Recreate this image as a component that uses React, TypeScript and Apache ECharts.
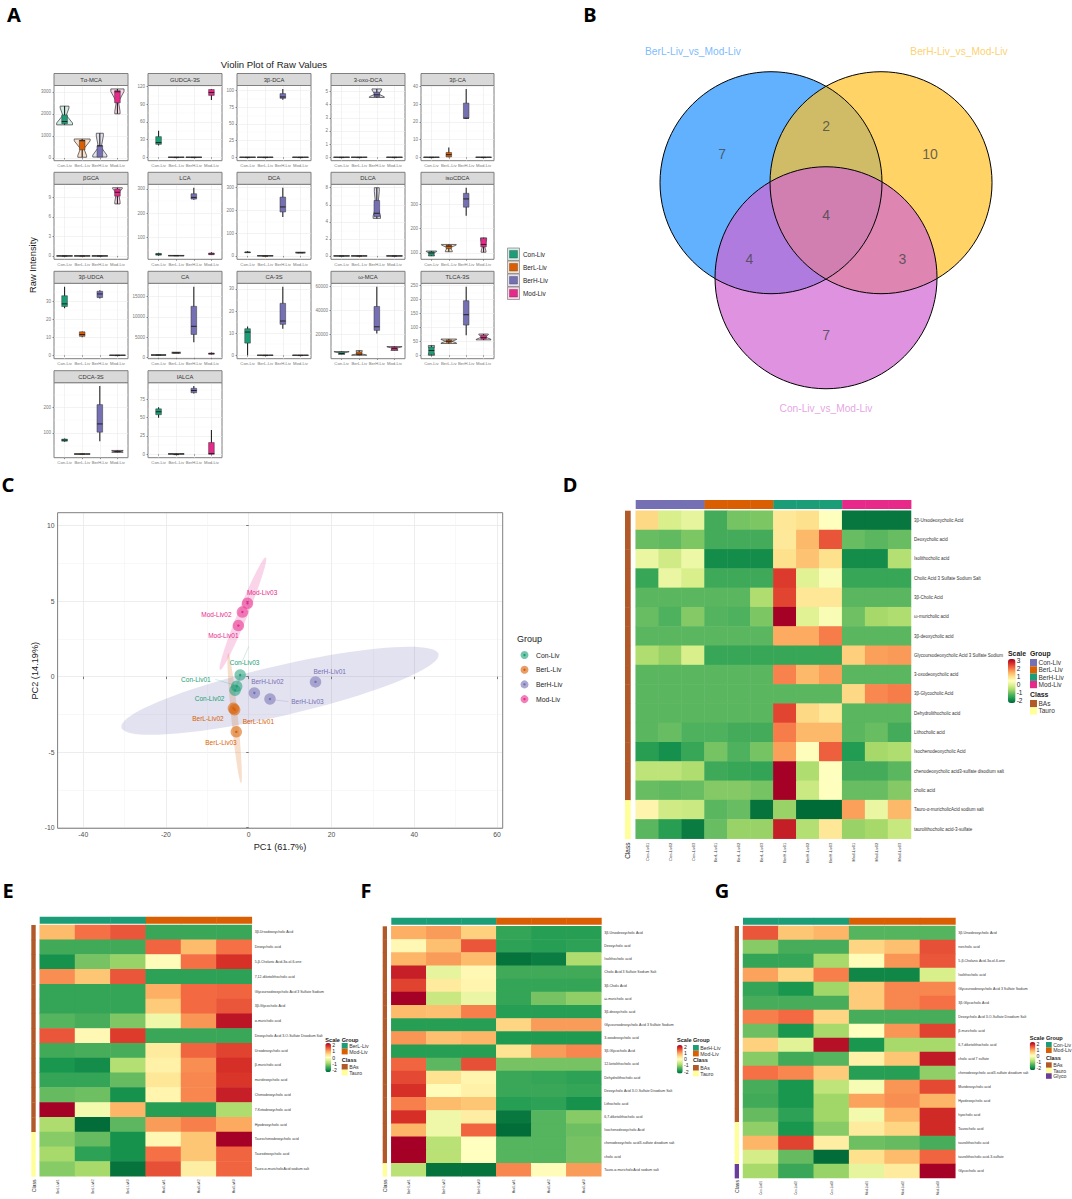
import React, { useEffect, useRef } from "react";
import * as echarts from "echarts";

const FONT = "Liberation Sans";
const groups = ["Con-Liv", "BerL-Liv", "BerH-Liv", "Mod-Liv"];
const groupColors = ["#1B9E77", "#D95F02", "#7570B3", "#E7298A"];

// ---- Panel A: [low, q1, median, q3, high, waist, topWidth, bottomWidth]
const flat = [0, 0, 0, 0, 0, 0, 0.9, 0.9];
const tauMCA = [[1500, 1550, 1650, 1950, 2350, 1930, 0.5, 0.9], [30, 370, 780, 800, 860, 420, 0.9, 0.5], [40, 40, 550, 550, 1120, 480, 0.4, 0.8], [2000, 2500, 3000, 3050, 3130, 2550, 0.75, 0.3]];
const gudca3s = [[20, 22, 25, 35, 45, 0, 0, 0], flat, flat, [97, 105, 110, 115, 116, 0, 0, 0]];
const bDCA = [flat, flat, [86, 88, 90, 95, 102, 0, 0, 0], flat];
const oxoDCA = [flat, flat, [4.55, 4.6, 4.75, 4.95, 5.2, 4.8, 0.55, 0.85], flat];
const bCA = [flat, [0, 0.2, 1.5, 2.7, 5.5, 0, 0, 0], [21.5, 22, 22, 30.5, 38.5, 0, 0, 0], flat];
const bGCA = [flat, flat, flat, [8, 9.2, 9.8, 10.3, 10.5, 9.7, 0.55, 0.3]];
const lca = [[24, 26, 30, 33, 36, 0, 0, 0], [23, 23.5, 24, 24.5, 25, 24, 0.9, 0.9], [255, 258, 265, 280, 305, 0, 0, 0], [27, 28, 31, 35, 38, 0, 0, 0]];
const dca = [[13, 14, 16, 17, 20, 0, 0, 0], [0, 0, 0, 0, 1, 0.5, 0.9, 0.9], [170, 192, 214, 257, 298, 0, 0, 0], [13, 13.5, 14, 15, 16, 14, 0.55, 0.55]];
const dlca = [flat, flat, [4.4, 4.6, 5, 6.5, 8, 5.8, 0.28, 0.42], flat];
const isoCDCA = [[88, 90, 100, 105, 108, 97, 0.6, 0.35], [105, 118, 128, 132, 135, 122, 0.85, 0.4], [253, 288, 322, 345, 368, 0, 0, 0], [103, 125, 135, 160, 162, 128, 0.35, 0.28]];
const bUDCA = [[26, 27, 28.5, 33, 38, 0, 0, 0], [10, 10.5, 11.5, 13, 13.2, 0, 0, 0], [31.5, 32, 34, 35.5, 36, 0, 0, 0], flat];
const ca = [[600, 620, 650, 700, 720, 650, 0.85, 0.85], [1100, 1150, 1200, 1280, 1350, 1200, 0.5, 0.5], [3800, 5700, 7700, 12600, 17400, 0, 0, 0], [800, 850, 1000, 1150, 1250, 0, 0, 0]];
const ca3s = [[0, 5.5, 10.5, 12, 13, 0, 0, 0], flat, [12, 14, 15.5, 23.5, 31, 0, 0, 0], flat];
const wMCA = [[3500, 3900, 4200, 5500, 5800, 4500, 0.85, 0.35], [2700, 3000, 3600, 5500, 6600, 4000, 0.35, 0.85], [21000, 23500, 26500, 43500, 60000, 0, 0, 0], [6800, 7000, 8500, 9500, 10000, 8500, 0.85, 0.4]];
const tlca3s = [[0, 2, 17, 30, 35, 17, 0.35, 0.35], [42, 46, 50, 55, 58, 50, 0.9, 0.9], [72, 108, 145, 195, 245, 0, 0, 0], [55, 58, 63, 72, 76, 65, 0.55, 0.85]];
const cdca3s = [[66, 68, 72, 76, 78, 0, 0, 0], [17, 17.5, 18, 18.5, 19, 18, 0.9, 0.9], [68, 103, 135, 210, 282, 0, 0, 0], [25, 26, 27, 30, 32, 27, 0.65, 0.65]];
const ialca = [[50, 54, 58, 62, 64, 0, 0, 0], [0, 0, 0, 0, 1, 0.5, 0.9, 0.9], [83, 84, 87, 90, 93, 0, 0, 0], [0, 0, 1, 16, 33, 0, 0, 0]];

const facetNames = ["Tα-MCA", "GUDCA-3S", "3β-DCA", "3-oxo-DCA", "3β-CA", "βGCA", "LCA", "DCA", "DLCA", "isoCDCA", "3β-UDCA", "CA", "CA-3S", "ω-MCA", "TLCA-3S", "CDCA-3S", "IALCA"];
const facetData = [tauMCA, gudca3s, bDCA, oxoDCA, bCA, bGCA, lca, dca, dlca, isoCDCA, bUDCA, ca, ca3s, wMCA, tlca3s, cdca3s, ialca];
const facetTicks = [
  [0, 1000, 2000, 3000], [0, 30, 60, 90, 120], [0, 25, 50, 75, 100], [0, 1, 2, 3, 4, 5], [0, 10, 20, 30, 40],
  [0, 3, 6, 9], [100, 200, 300], [0, 100, 200, 300], [0, 2, 4, 6, 8], [100, 200, 300],
  [0, 10, 20, 30], [0, 5000, 10000, 15000], [0, 10, 20, 30], [20000, 40000, 60000], [0, 50, 100, 150, 200, 250],
  [100, 200], [0, 25, 50, 75],
];

// ---- Panel B
const vennNames = ["BerL-Liv_vs_Mod-Liv", "BerH-Liv_vs_Mod-Liv", "Con-Liv_vs_Mod-Liv"];
const vennCenters = [[-0.5, 0], [0.5, 0], [0, -0.864]];
const vennFills = ["rgba(30,144,255,0.7)", "rgba(255,193,37,0.7)", "rgba(210,100,210,0.7)"];
const vennTextColors = ["#58a9fb", "#fdc648", "#dd8edb"];
const vennCounts = [7, 2, 10, 4, 4, 3, 7];
const vennCountPos = [[-0.945, 0.258], [0, 0.515], [0.945, 0.258], [0, -0.294], [-0.697, -0.694], [0.694, -0.694], [0, -1.382]];
const vennNamePos = [[-1.21, 1.194], [1.209, 1.194], [0, -2.05]];

// ---- Panel C
const pcaNames = [
  ["Con-Liv01", "Con-Liv02", "Con-Liv03"], ["BerL-Liv01", "BerL-Liv02", "BerL-Liv03"],
  ["BerH-Liv01", "BerH-Liv02", "BerH-Liv03"], ["Mod-Liv01", "Mod-Liv02", "Mod-Liv03"],
];
const pcaPoints = [
  [[-2.9, -0.64], [-3.3, -0.9], [-2.06, 0.11]], [[-3.4, -2.2], [-3.7, -2.1], [-3.0, -3.66]],
  [[16.15, -0.35], [1.37, -1.08], [5.14, -1.48]], [[-2.5, 3.38], [-1.53, 4.28], [-0.3, 4.86]],
];
const pcaLabelOffsets = [
  [[-40.8, -7], [-25.5, 8.7], [4.4, -12.3]], [[23.7, 11.3], [-25.5, 10], [-15.3, 10.7]],
  [[14.2, -10.7], [13, -11], [37.5, 2.7]], [[-15, 10.3], [-26, 2.7], [14.6, -10.7]],
];
const pcaEllipses = [[-2.6, -0.4, 0.7, 0.55, 0.25, 0], [-3.4, -2.76, 1.55, -4.3, 0.8, 0], [7.55, -0.94, 38.35, 2.37, 0, 1.7], [-1.4, 4.17, 5.5, 3.73, 1.3, 0]];
const pcaLeaders = [[-8.1, -0.18, -3.6, -0.55, 0], [0, 2, -1.9, 0.8, 0], [6.3, -1.55, 9.6, -1.65, 2]];
const pcaLegendDots = ["#1B9E77", "#D95F02", "#7570B3", "#E7298A"];

// ---- Heatmaps
const scaleStops = ["#006837", "#1A9850", "#58B55F", "#A6D96A", "#D9EF8B", "#FFFFBF", "#FEE08B", "#FDAE61", "#F46D43", "#D73027", "#A50026"];
const classColors = { BAs: "#B15928", Tauro: "#FFFF99", Glyco: "#6A3D9A" };

const dRows = ["3β-Ursodeoxycholic Acid", "Deoxycholic acid", "Isolithocholic acid", "Cholic Acid 3 Sulfate Sodium Salt", "3β-Cholic Acid", "ω-muricholic acid", "3β-deoxycholic acid", "Glycoursodeoxycholic Acid 3 Sulfate Sodium", "3-oxodeoxycholic acid", "3β-Glycocholic Acid", "Dehydrolithocholic acid", "Lithocholic acid", "Isochenodeoxycholic Acid", "chenodeoxycholic acid3-sulfate disodium salt", "cholic acid", "Tauro-α-muricholicAcid sodium salt", "taurolithocholic acid-3-sulfate"];
const dCols = ["Con-Liv01", "Con-Liv02", "Con-Liv03", "BerL-Liv01", "BerL-Liv02", "BerL-Liv03", "BerH-Liv01", "BerH-Liv02", "BerH-Liv03", "Mod-Liv01", "Mod-Liv02", "Mod-Liv03"];
const dValues = [
  [1.1, -0.1, 0.1, -1.4, -1, -0.95, 0.9, 1, 0.45, -2.15, -2.15, -2.15],
  [-1.1, -1.15, -0.95, -1.4, -1.4, -1.4, 0.85, 1.45, 2.35, -1.1, -1.2, -1.1],
  [0.15, -0.2, 0.2, -1.9, -1.9, -1.9, 1, 1.35, 1, -1.9, -1.9, -0.5],
  [-1.5, 0.15, -0.1, -1.45, -1.45, -1.45, 2.6, 0, 0.35, -1.5, -1.5, -1.5],
  [-1.2, -1.2, -1.2, -1.2, -1.2, -0.55, 2.5, 0.9, 0.9, -1.2, -1.2, -1.2],
  [-1.1, -1.3, -0.9, -1.25, -1.3, -0.95, 3.25, 0, 0.35, -1.05, -0.65, -0.55],
  [-1.2, -1.2, -1.2, -1.2, -1.2, -1.2, 1.6, 1.6, 2.0, -1.2, -1.2, -1.2],
  [-0.55, -0.75, -0.1, -1.5, -1.5, -1.5, -1.5, -1.5, -1.5, 1.2, 1.7, 1.75],
  [-1.2, -1.2, -1.2, -1.2, -1.2, -1.2, 1.95, 1.45, 1.7, -1.2, -1.2, -1.2],
  [-1.2, -1.2, -1.2, -1.2, -1.2, -1.2, -1.2, -1.2, -1.2, 1.1, 1.9, 2.0],
  [-1.2, -1.2, -1.2, -1.2, -1.2, -1.2, 2.5, 1.1, 0.9, -1.2, -1.2, -1.2],
  [-1.2, -1.1, -1.3, -1.3, -1.4, -1.4, 2.0, 1.45, 1.45, -1.2, -1.1, -1.4],
  [-1.65, -1.85, -1.5, -1, -1.3, -1, 1.7, 0.5, 2.25, -1.7, -0.65, -0.55],
  [-0.4, -0.4, -0.55, -1.45, -1.5, -1.55, 3.25, -0.55, 0.45, -1.4, -1.4, -1.2],
  [-1.1, -1.15, -1.1, -0.9, -0.9, -1, 3.25, -0.25, 0.45, -1.1, -1.1, -0.9],
  [0.65, -0.2, -0.25, -1.2, -1.1, -2.2, -0.75, -2.3, -2.3, 1.7, 0.15, 1.45],
  [-1.2, -1.65, -2.1, -1.1, -0.75, -0.75, 2.9, -0.5, 0.9, -0.75, -0.65, -0.3],
];
const dColGroups = [2, 2, 2, 1, 1, 1, 0, 0, 0, 3, 3, 3];
const dClasses = [15, 2, 0];
const pairColGroups = [0, 0, 0, 1, 1, 1];

const eRows = ["3β-Ursodeoxycholic Acid", "Deoxycholic acid", "5-β-Cholanic Acid-3α-ol-6-one", "7,12-diketolithocholic acid", "Glycoursodeoxycholic Acid 3 Sulfate Sodium", "3β-Glycocholic Acid", "α-muricholic acid", "Deoxycholic Acid 3-O-Sulfate Disodium Salt", "Ursodeoxycholic acid", "β-muricholic acid", "murideoxycholic acid", "Chenodeoxycholic acid", "7-Ketodeoxycholic acid", "Hyodeoxycholic acid", "Taurochenodeoxycholic acid", "Taurodeoxycholic acid", "Tauro-α-muricholicAcid sodium salt"];
const eCols = ["BerL-Liv01", "BerL-Liv02", "BerL-Liv03", "Mod-Liv01", "Mod-Liv02", "Mod-Liv03"];
const eValues = [
  [0.8, 1.35, 1.55, -1.6, -1.6, -1.6],
  [-1.55, -1.55, -1.55, 1.45, 0.8, 1.35],
  [-1.9, -1.2, -1, 0.05, 1.35, 1.84],
  [1.15, 0.7, 1.55, -1.7, -1.7, -1.7],
  [-1.65, -1.65, -1.65, 0.9, 1.4, 1.45],
  [-1.65, -1.65, -1.65, 0.65, 1.4, 1.55],
  [-1.4, -1.5, -1.15, -0.2, 1.1, 2.1],
  [1.55, 0.1, 1.75, -1.6, -1.6, -1.6],
  [-1.55, -1.5, -1.5, 0.3, 1.45, 1.7],
  [-1.85, -1.95, -0.8, 0.2, 1.15, 1.85],
  [-1.65, -1.65, -1.3, 0.35, 1.2, 1.8],
  [-1.3, -1.25, -1.9, 0.15, 1.2, 2],
  [2.3, -0.15, 0.85, -1.75, -1.75, -0.85],
  [-0.85, -2.25, -1.35, 1.05, 1.25, 0.95],
  [-1.1, -1.3, -1.9, 0.1, 0.7, 2.3],
  [-0.9, -1.7, -1.9, 1.35, 0.7, 1.45],
  [-1.1, -0.9, -2.2, 1.6, 0.25, 1.45],
];
const fRows = ["3β-Ursodeoxycholic Acid", "Deoxycholic acid", "Isolithocholic acid", "Cholic Acid 3 Sulfate Sodium Salt", "3β-Cholic Acid", "ω-muricholic acid", "3β-deoxycholic acid", "Glycoursodeoxycholic Acid 3 Sulfate Sodium", "3-oxodeoxycholic acid", "3β-Glycocholic Acid", "12-ketolithocholic acid", "Dehydrolithocholic acid", "Deoxycholic Acid 3-O-Sulfate Disodium Salt", "Lithocholic acid", "6,7-diketolithocholic acid", "Isochenodeoxycholic Acid", "chenodeoxycholic acid3-sulfate disodium salt", "cholic acid", "Tauro-α-muricholicAcid sodium salt"];
const fCols = ["BerH-Liv01", "BerH-Liv02", "BerH-Liv03", "Mod-Liv01", "Mod-Liv02", "Mod-Liv03"];
const fValues = [
  [0.9, 1.05, 0.6, -1.65, -1.75, -1.75],
  [0.1, 0.75, 1.55, -1.7, -1.75, -1.7],
  [0.85, 1.05, 0.8, -2.2, -2.1, -0.85],
  [2, -0.3, 0.1, -1.55, -1.55, -1.55],
  [1.7, 0.3, 0.15, -1.65, -1.65, -1.65],
  [2.3, -0.6, -0.25, -1.65, -1.2, -1.05],
  [0.8, 0.75, 1.25, -1.75, -1.75, -1.75],
  [-1.75, -1.75, -1.75, 0.55, 1.05, 1.05],
  [1.1, 0.75, 0.85, -1.8, -1.8, -1.8],
  [-1.75, -1.75, -1.75, 0.4, 1.05, 1.2],
  [1.45, -1.35, 1.6, -1.2, -1.2, -1.2],
  [1.65, 0.4, 0.15, -1.6, -1.65, -1.7],
  [1.85, 0.05, 0.2, -1.6, -1.6, -1.65],
  [1.25, 0.8, 0.7, -1.75, -1.7, -1.9],
  [1.85, -0.2, 0.25, -2.15, -1.4, -1.1],
  [0.85, -0.2, 1.45, -2.25, -1.4, -1.25],
  [2.3, -0.75, 0, -1.4, -1.4, -1.2],
  [2.3, -0.75, 0, -1.4, -1.4, -1.2],
  [-0.75, -2.2, -2.2, 1.2, 0.05, 1.05],
];
const gRows = ["3β-Ursodeoxycholic Acid", "norcholic acid", "5-β-Cholanic Acid-3α-ol-6-one", "Isolithocholic acid", "Glycoursodeoxycholic Acid 3 Sulfate Sodium", "3β-Glycocholic Acid", "Deoxycholic Acid 3-O-Sulfate Disodium Salt", "β-muricholic acid", "6,7-diketolithocholic acid", "cholic acid 7 sulfate", "chenodeoxycholic acid3-sulfate disodium salt", "Murideoxycholic acid", "Hyodeoxycholic acid", "hyocholic acid", "Taurocholic acid", "taurolithocholic acid", "taurolithocholic acid-3-sulfate", "Glycocholic acid"];
const gCols = ["Con-Liv01", "Con-Liv02", "Con-Liv03", "Mod-Liv01", "Mod-Liv02", "Mod-Liv03"];
const gValues = [
  [1.55, 0.7, 0.85, -1.4, -1.4, -1.4],
  [-1.1, -1.5, -1.5, 0.55, 0.75, 1.6],
  [-1.65, -1.65, -0.9, 0.05, 1.1, 1.55],
  [1.0, 0.55, 1.25, -2, -2, -0.46],
  [-1.65, -1.85, -0.95, 0.65, 1.2, 1.2],
  [-1.5, -1.5, -1.5, 0.65, 1.2, 1.35],
  [1.25, 1.4, 0.55, -1.5, -1.5, -1.5],
  [-1.25, -1.85, -0.9, 0, 1.1, 1.7],
  [0.6, -0.35, 2.15, -1.85, -0.9, -0.9],
  [-1.1, -1.55, -1.4, 0.2, 0.7, 2.05],
  [1.35, 1.2, 0.65, -1.75, -1.75, -1.05],
  [-1.5, -1.85, -0.7, -0.1, 1.1, 1.65],
  [-1.55, -1.85, -0.95, 1, 1.15, 0.85],
  [-1.3, -1.7, -0.95, -0.15, 0.85, 1.9],
  [-1.05, -1.85, -1.1, 0.3, 0.55, 1.9],
  [0.85, 1.7, 0.25, -1.25, -1.3, -1.5],
  [-0.5, -1.3, -2.25, 0.45, 0.8, 1.45],
  [-0.9, -1.6, -1, -0.3, 0.3, 2.3],
];

function text(t: string, x: number, y: number, size: number, extra: any = {}) {
  const { align = "left", color = "#1a1a1a", weight = "normal", rotation = 0, family = FONT } = extra;
  return {
    type: "text", x, y, rotation, silent: true, z: 20,
    style: { text: t, fontSize: size, fontFamily: family, fontWeight: weight, fill: color, align, textAlign: align, verticalAlign: "middle", textVerticalAlign: "middle" },
  };
}
function rect(x: number, y: number, width: number, height: number, fill: string, stroke = "none", lineWidth = 0) {
  return { type: "rect", silent: true, z: 10, shape: { x, y, width, height }, style: { fill, stroke, lineWidth } };
}

function buildOption() {
  const grid: any[] = [], xAxis: any[] = [], yAxis: any[] = [], series: any[] = [], visualMap: any[] = [], graphic: any[] = [];
  const hidden = (g: number, extra: any = {}) => ({ show: false, gridIndex: g, ...extra });
  const addGrid = (left: number, top: number, width: number, height: number, extra: any = {}) => {
    grid.push({ left, top, width, height, containLabel: false, outerBoundsMode: "none", ...extra });
    return grid.length - 1;
  };

  // ---------- Panel letters
  [["A", 14, 14], ["B", 590, 14], ["C", 8, 484], ["D", 570, 484], ["E", 8, 890], ["F", 366, 890], ["G", 722, 890]].forEach(([l, x, y]: any) =>
    graphic.push(text(l, x, y, 20, { weight: "bold", color: "#000", family: "Noto Sans", align: "center" }))
  );

  // ---------- Panel A
  graphic.push(text("Violin Plot of Raw Values", 274, 64, 9.6, { align: "center" }));
  graphic.push(text("Raw Intensity", 33, 265, 9.3, { align: "center", rotation: Math.PI / 2 }));
  const colsA = [[54, 128], [148, 222], [237, 311], [331, 405], [421, 494]];
  const rowsA = [[85.5, 160.7], [184.3, 259.3], [283.3, 358.7], [382.7, 457.7]];
  facetNames.forEach((name, i) => {
    const [x0, x1] = colsA[i % 5];
    const [y0, y1] = rowsA[Math.floor(i / 5)];
    const g = addGrid(x0, y0, x1 - x0, y1 - y0, { show: true, borderColor: "#7f7f7f", borderWidth: 1, backgroundColor: "#fff" });
    const rows = facetData[i];
    const lo = Math.min(...rows.map((r) => r[0]));
    const hi = Math.max(...rows.map((r) => r[4]));
    const pad = (hi - lo) * 0.05;
    const min = lo - pad, max = hi + pad;
    const ticks = facetTicks[i];
    const step = ticks[1] - ticks[0];
    const minors: number[] = [];
    for (let v = ticks[0] - step / 2; v < max; v += step) if (v > min) minors.push(v);
    const xi = xAxis.length;
    xAxis.push({
      type: "value", gridIndex: g, min: 0.4, max: 4.6, axisLine: { show: false },
      axisTick: { show: true, length: 1.5, lineStyle: { color: "#333", width: 0.5 }, customValues: [1, 2, 3, 4] },
      axisLabel: { customValues: [1, 2, 3, 4], fontSize: 4.2, color: "#777", fontFamily: FONT, margin: 3, formatter: (v: number) => groups[v - 1] },
      splitLine: { show: true, lineStyle: { color: "#ebebeb", width: 0.6 } },
    });
    const yi = yAxis.length;
    yAxis.push({
      type: "value", gridIndex: g, min, max, position: "left", axisLine: { show: false },
      axisTick: { show: true, length: 1.5, lineStyle: { color: "#333", width: 0.5 }, customValues: ticks },
      axisLabel: { customValues: ticks, fontSize: 4.5, color: "#777", fontFamily: FONT, margin: 3, formatter: (v: number) => String(v) },
      splitLine: { show: true, lineStyle: { color: "#ebebeb", width: 0.6 } },
    });
    yAxis.push({
      type: "value", gridIndex: g, min, max, position: "left", axisLine: { show: false }, axisLabel: { show: false },
      axisTick: { show: false, customValues: minors }, splitLine: { show: true, lineStyle: { color: "#f2f2f2", width: 0.4 } },
    });
    series.push({
      type: "custom", xAxisIndex: xi, yAxisIndex: yi, clip: false, silent: true, z: 3,
      encode: { x: 0, y: [1, 2, 3, 4, 5] },
      data: rows.map((r, k) => [k + 1, ...r]),
      renderItem: (params: any, api: any) => {
        const x = api.value(0);
        const v = [1, 2, 3, 4, 5, 6, 7, 8].map((d) => api.value(d));
        const cx = api.coord([x, v[2]])[0];
        const unit = api.size([1, 0])[0];
        const Y = (val: number) => api.coord([x, val])[1];
        const col = groupColors[params.dataIndex];
        const ch: any[] = [];
        const [low, q1, med, q3, high, waist, tw, bw] = v;
        if (tw > 0) {
          const t = (tw * unit) / 2, b = (bw * unit) / 2, w = 0.2 * Math.min(tw, bw) * unit;
          const nT = waist + 0.8 * (high - waist), nB = waist - 0.8 * (waist - low);
          ch.push({
            type: "polygon",
            shape: { points: [[cx - t, Y(high)], [cx + t, Y(high)], [cx + t, Y(nT)], [cx + w, Y(waist)], [cx + b, Y(nB)], [cx + b, Y(low)], [cx - b, Y(low)], [cx - b, Y(nB)], [cx - w, Y(waist)], [cx - t, Y(nT)]] },
            style: { fill: echarts.color.modifyAlpha(col, 0.2), stroke: "#333", lineWidth: 0.7 },
          });
        }
        ch.push({ type: "line", shape: { x1: cx, y1: Y(low), x2: cx, y2: Y(high) }, style: { stroke: "#222", lineWidth: 1.1 } });
        const hw = 0.16 * unit;
        ch.push({ type: "rect", shape: { x: cx - hw, y: Y(q3), width: 2 * hw, height: Math.max(Y(q1) - Y(q3), 0.4) }, style: { fill: col, stroke: "#333", lineWidth: 0.5 } });
        ch.push({ type: "line", shape: { x1: cx - hw, y1: Y(med), x2: cx + hw, y2: Y(med) }, style: { stroke: "#222", lineWidth: 1 } });
        return { type: "group", children: ch };
      },
    });
    graphic.push(rect(x0, y0 - 12, x1 - x0, 12, "#d9d9d9", "#7f7f7f", 1));
    graphic.push(text(name, (x0 + x1) / 2, y0 - 6, 5.8, { align: "center", color: "#333" }));
  });
  groups.forEach((g, i) => {
    const y = 248 + i * 13;
    graphic.push(rect(507.5, y, 12, 12.5, echarts.color.modifyAlpha(groupColors[i], 0.2), "#7f7f7f", 0.7));
    graphic.push(rect(509.5, y + 2.5, 8, 7.5, groupColors[i], "#444", 0.4));
    graphic.push(text(g, 523, y + 6, 6.4, { color: "#222" }));
  });

  // ---------- Panel B
  const gB = addGrid(600, 0, 472, 430);
  xAxis.push(hidden(gB, { type: "value", min: -2.0545, max: 2.236 }));
  yAxis.push(hidden(gB, { type: "value", min: -2.248, max: 1.661 }));
  const bx = xAxis.length - 1, by = yAxis.length - 1;
  series.push({
    type: "scatter", xAxisIndex: bx, yAxisIndex: by, silent: true, symbolSize: 222, z: 2,
    data: vennCenters.map((c, i) => ({ value: c, itemStyle: { color: vennFills[i], opacity: 1 } })),
  });
  series.push({
    type: "scatter", xAxisIndex: bx, yAxisIndex: by, silent: true, symbolSize: 222, z: 3,
    data: vennCenters, itemStyle: { color: "rgba(0,0,0,0)", borderColor: "#000", borderWidth: 1, opacity: 1 },
  });
  series.push({
    type: "scatter", xAxisIndex: bx, yAxisIndex: by, silent: true, symbolSize: 0, z: 4,
    data: vennCountPos.map((p, i) => ({ value: p, label: { show: true, position: "inside", formatter: String(vennCounts[i]), fontSize: 14, color: "#444", fontFamily: FONT } })),
  });
  series.push({
    type: "scatter", xAxisIndex: bx, yAxisIndex: by, silent: true, symbolSize: 0, z: 4,
    data: vennNamePos.map((p, i) => ({ value: p, label: { show: true, position: "inside", formatter: vennNames[i], fontSize: 10.2, color: vennTextColors[i], fontFamily: FONT } })),
  });

  // ---------- Panel C
  const gC = addGrid(57.6, 512.7, 445.1, 315.6, { show: true, borderColor: "#7f7f7f", borderWidth: 1, z: 1 });
  const xMin = -46.2, xMax = 61.4, yMin = -10.05, yMax = 10.86;
  const cx0 = xAxis.length;
  xAxis.push({
    type: "value", gridIndex: gC, min: xMin, max: xMax, axisLine: { show: false },
    axisTick: { length: 2.5, lineStyle: { color: "#444", width: 0.7 }, customValues: [-40, -20, 0, 20, 40, 60] },
    axisLabel: { customValues: [-40, -20, 0, 20, 40, 60], fontSize: 6.8, color: "#4d4d4d", fontFamily: FONT, margin: 3, formatter: (v: number) => String(v) },
    splitLine: { show: true, lineStyle: { color: "#e8e8e8", width: 0.8 } },
  });
  xAxis.push({
    type: "value", gridIndex: gC, min: xMin, max: xMax, axisLine: { show: false }, axisLabel: { show: false },
    axisTick: { show: false, customValues: [-30, -10, 10, 30, 50] }, splitLine: { show: true, lineStyle: { color: "#f0f0f0", width: 0.5 } },
  });
  const cy0 = yAxis.length;
  yAxis.push({
    type: "value", gridIndex: gC, min: yMin, max: yMax, axisLine: { show: false },
    axisTick: { length: 2.5, lineStyle: { color: "#444", width: 0.7 }, customValues: [-10, -5, 0, 5, 10] },
    axisLabel: { customValues: [-10, -5, 0, 5, 10], fontSize: 6.8, color: "#4d4d4d", fontFamily: FONT, margin: 3, formatter: (v: number) => String(v) },
    splitLine: { show: true, lineStyle: { color: "#e8e8e8", width: 0.8 } },
  });
  yAxis.push({
    type: "value", gridIndex: gC, min: yMin, max: yMax, axisLine: { show: false }, axisLabel: { show: false },
    axisTick: { show: false, customValues: [-7.5, -2.5, 2.5, 7.5] }, splitLine: { show: true, lineStyle: { color: "#f0f0f0", width: 0.5 } },
  });
  series.push({
    type: "custom", xAxisIndex: cx0, yAxisIndex: cy0, silent: true, z: 2, encode: { x: 0, y: 1 },
    data: pcaEllipses,
    renderItem: (params: any, api: any) => {
      const [c, d, ux, uy, wx, wy] = [0, 1, 2, 3, 4, 5].map((k) => api.value(k));
      const points: number[][] = [];
      for (let k = 0; k < 90; k++) {
        const t = (k / 90) * Math.PI * 2;
        points.push(api.coord([c + ux * Math.cos(t) + wx * Math.sin(t), d + uy * Math.cos(t) + wy * Math.sin(t)]));
      }
      return { type: "polygon", shape: { points }, style: { fill: echarts.color.modifyAlpha(groupColors[params.dataIndex], 0.2) } };
    },
  });
  series.push({
    type: "custom", xAxisIndex: cx0, yAxisIndex: cy0, silent: true, z: 3, encode: { x: 0, y: 1 },
    data: pcaLeaders,
    renderItem: (_p: any, api: any) => {
      const a = api.coord([api.value(0), api.value(1)]);
      const b = api.coord([api.value(2), api.value(3)]);
      return { type: "line", shape: { x1: a[0], y1: a[1], x2: b[0], y2: b[1] }, style: { stroke: echarts.color.modifyAlpha(groupColors[api.value(4)], 0.4), lineWidth: 0.5 } };
    },
  });
  pcaPoints.forEach((pts, g) => {
    series.push({
      type: "scatter", xAxisIndex: cx0, yAxisIndex: cy0, silent: true, symbolSize: 11.5, z: 4,
      itemStyle: { color: groupColors[g], opacity: 0.55 },
      data: pts.map((p, i) => ({
        value: p,
        label: { show: true, position: "inside", offset: pcaLabelOffsets[g][i], formatter: pcaNames[g][i], fontSize: 6.5, color: groupColors[g], opacity: 1, fontFamily: FONT },
      })),
    });
    series.push({
      type: "scatter", xAxisIndex: cx0, yAxisIndex: cy0, silent: true, symbolSize: 2.4, z: 5,
      itemStyle: { color: groupColors[g], opacity: 1 }, data: pts,
    });
  });
  graphic.push(text("PC1 (61.7%)", 280, 846.7, 9.2, { align: "center" }));
  graphic.push(text("PC2 (14.19%)", 35, 670.7, 9.2, { align: "center", rotation: Math.PI / 2 }));
  graphic.push(text("Group", 517, 639, 9, {}));
  groups.forEach((g, i) => {
    const y = 655 + i * 14.7;
    graphic.push({ type: "circle", silent: true, z: 10, shape: { cx: 524.5, cy: y, r: 4 }, style: { fill: pcaLegendDots[i], opacity: 0.6 } });
    graphic.push({ type: "circle", silent: true, z: 11, shape: { cx: 524.5, cy: y, r: 1.2 }, style: { fill: pcaLegendDots[i] } });
    graphic.push(text(g, 536, y, 6.8, { color: "#222" }));
  });

  // ---------- Heatmaps
  function addHeat(p: any) {
    const { x0, x1, y0, y1, barTop, barH, classX0, classX1, rows, cols, values, colGroups, classes, groupPalette, groupNames, min, max, ticks, rowFont, colFont, labelFont, leg } = p;
    const g = addGrid(x0, y0, x1 - x0, y1 - y0);
    const xi = xAxis.length, yi = yAxis.length;
    xAxis.push({
      type: "category", gridIndex: g, data: cols, position: "bottom", axisLine: { show: false }, axisTick: { show: false }, splitLine: { show: false },
      axisLabel: { interval: 0, rotate: 90, fontSize: colFont, color: "#333", fontFamily: FONT, margin: colFont },
    });
    yAxis.push({
      type: "category", gridIndex: g, data: rows, inverse: true, position: "right", axisLine: { show: false }, axisTick: { show: false }, splitLine: { show: false },
      axisLabel: { interval: 0, fontSize: rowFont, color: "#333", fontFamily: FONT, margin: 3 },
    });
    const seriesIndex = series.length;
    const cells: number[][] = [];
    values.forEach((r: number[], ry: number) => r.forEach((v, cxi) => cells.push([cxi, ry, v])));
    series.push({ type: "heatmap", xAxisIndex: xi, yAxisIndex: yi, silent: true, data: cells, progressive: 0 });
    visualMap.push({
      type: "continuous", seriesIndex, min, max, inRange: { color: scaleStops }, calculable: false, hoverLink: false, realtime: false,
      left: leg.barX, top: leg.barY, itemWidth: leg.barW, itemHeight: leg.barH, padding: 0, orient: "vertical", show: true,
    });
    ticks.forEach((t: number) => {
      graphic.push(text(String(t), leg.barX + leg.barW + 1.2, leg.barY + ((max - t) / (max - min)) * leg.barH, labelFont, { color: "#222" }));
    });
    graphic.push(text("Scale", leg.barX, leg.titleY, labelFont + 0.4, { weight: "bold", color: "#222" }));
    graphic.push(text("Group", leg.keyX, leg.titleY, labelFont + 0.4, { weight: "bold", color: "#222" }));
    groupNames.forEach((n: string, i: number) => {
      graphic.push(rect(leg.keyX, leg.barY + i * leg.keyH, leg.keyW, leg.keyH, groupPalette[i]));
      graphic.push(text(n, leg.keyX + leg.keyW + 1.5, leg.barY + (i + 0.5) * leg.keyH, labelFont, { color: "#333" }));
    });
    graphic.push(text("Class", leg.keyX, leg.classY, labelFont + 0.4, { weight: "bold", color: "#222" }));
    const gt = addGrid(x0, barTop, x1 - x0, barH);
    xAxis.push(hidden(gt, { type: "category", data: cols }));
    yAxis.push(hidden(gt, { type: "category", data: ["Group"] }));
    series.push({
      type: "custom", xAxisIndex: xAxis.length - 1, yAxisIndex: yAxis.length - 1, silent: true, encode: { x: 0, y: 1 },
      data: colGroups.map((c: number, i: number) => [i, 0, c]),
      renderItem: (_p: any, api: any) => {
        const pt = api.coord([api.value(0), api.value(1)]);
        const s = api.size([1, 1]);
        return { type: "rect", shape: { x: pt[0] - s[0] / 2, y: pt[1] - s[1] / 2, width: s[0] + 0.4, height: s[1] }, style: { fill: groupColors[api.value(2)] } };
      },
    });
    const gc = addGrid(classX0, y0, classX1 - classX0, y1 - y0);
    xAxis.push(hidden(gc, { type: "category", data: ["Class"] }));
    yAxis.push(hidden(gc, { type: "category", data: rows, inverse: true }));
    const classKeys = Object.keys(classColors);
    const classCells: number[][] = [];
    classes.forEach((n: number, c: number) => { for (let i = 0; i < n; i++) classCells.push([0, classCells.length, c]); });
    series.push({
      type: "custom", xAxisIndex: xAxis.length - 1, yAxisIndex: yAxis.length - 1, silent: true, encode: { x: 0, y: 1 },
      data: classCells,
      renderItem: (_p: any, api: any) => {
        const pt = api.coord([api.value(0), api.value(1)]);
        const s = api.size([1, 1]);
        return { type: "rect", shape: { x: pt[0] - s[0] / 2, y: pt[1] - s[1] / 2, width: s[0], height: s[1] + 0.4 }, style: { fill: (classColors as any)[classKeys[api.value(2)]] } };
      },
    });
    graphic.push(text("Class", (classX0 + classX1) / 2, y1 + p.classLabelDy, labelFont, { align: "center", rotation: Math.PI / 2, color: "#222" }));
    classKeys.forEach((c, i) => {
      if (!classes[i]) return;
      graphic.push(rect(leg.keyX, leg.classTop + i * leg.keyH, leg.keyW, leg.keyH, (classColors as any)[c]));
      graphic.push(text(c, leg.keyX + leg.keyW + 1.5, leg.classTop + (i + 0.5) * leg.keyH, labelFont, { color: "#333" }));
    });
  }
  const palD = ["#7570B3", "#D95F02", "#1B9E77", "#E7298A"];
  addHeat({
    x0: 635.7, x1: 911, y0: 510.7, y1: 838.7, barTop: 500, barH: 9, classX0: 625, classX1: 630.7,
    rows: dRows, cols: dCols, values: dValues, colGroups: dColGroups, classes: dClasses, groupPalette: palD, groupNames: groups,
    min: -2.33, max: 3.25, ticks: [3, 2, 1, 0, -1, -2], rowFont: 4.5, colFont: 4, labelFont: 6.5, classLabelDy: 12,
    leg: { barX: 1008, barY: 659, barW: 7.5, barH: 44, titleY: 653.5, keyX: 1030, keyW: 7, keyH: 7.3, classY: 694.5, classTop: 700 },
  });
  const palEFG = ["#1B9E77", "#D95F02"];
  addHeat({
    x0: 39.7, x1: 251.7, y0: 925, y1: 1176.3, barTop: 916.7, barH: 7, classX0: 31.3, classX1: 35.7,
    rows: eRows, cols: eCols, values: eValues, colGroups: pairColGroups, classes: [14, 3, 0], groupPalette: palEFG, groupNames: ["BerL-Liv", "Mod-Liv"],
    min: -2.3, max: 2.3, ticks: [2, 1, 0, -1, -2], rowFont: 3.5, colFont: 3, labelFont: 5.2, classLabelDy: 9.5,
    leg: { barX: 325.3, barY: 1043, barW: 5.7, barH: 29, titleY: 1039.7, keyX: 341.7, keyW: 6, keyH: 5.7, classY: 1059.7, classTop: 1064 },
  });
  addHeat({
    x0: 391.3, x1: 601.3, y0: 926.3, y1: 1176.3, barTop: 917.7, barH: 7, classX0: 382.7, classX1: 387,
    rows: fRows, cols: fCols, values: fValues, colGroups: pairColGroups, classes: [18, 1, 0], groupPalette: palEFG, groupNames: ["BerH-Liv", "Mod-Liv"],
    min: -2.3, max: 2.3, ticks: [2, 1, 0, -1, -2], rowFont: 3.5, colFont: 3, labelFont: 5.2, classLabelDy: 9.5,
    leg: { barX: 677, barY: 1045, barW: 5.7, barH: 28.5, titleY: 1040, keyX: 693, keyW: 5.8, keyH: 5.7, classY: 1060.3, classTop: 1065 },
  });
  addHeat({
    x0: 743, x1: 955.3, y0: 926, y1: 1178, barTop: 917.7, barH: 7, classX0: 734.7, classX1: 739,
    rows: gRows, cols: gCols, values: gValues, colGroups: pairColGroups, classes: [14, 3, 1], groupPalette: palEFG, groupNames: ["Con-Liv", "Mod-Liv"],
    min: -2.3, max: 2.3, ticks: [2, 1, 0, -1, -2], rowFont: 3.5, colFont: 3, labelFont: 5.2, classLabelDy: 8.5,
    leg: { barX: 1029.7, barY: 1042, barW: 5.7, barH: 28, titleY: 1037.7, keyX: 1046, keyW: 5.7, keyH: 5.5, classY: 1058, classTop: 1062.3 },
  });

  return { animation: false, backgroundColor: "#fff", textStyle: { fontFamily: FONT }, tooltip: { show: false }, grid, xAxis, yAxis, series, visualMap, graphic };
}

export default function App() {
  const ref = useRef<HTMLDivElement>(null);
  useEffect(() => {
    const chart = echarts.init(ref.current!, undefined, { renderer: "svg" });
    chart.setOption(buildOption() as any);
    return () => chart.dispose();
  }, []);
  return <div ref={ref} style={{ position: "absolute", left: 0, top: 0, width: 1072, height: 1199, background: "#fff" }} />;
}
